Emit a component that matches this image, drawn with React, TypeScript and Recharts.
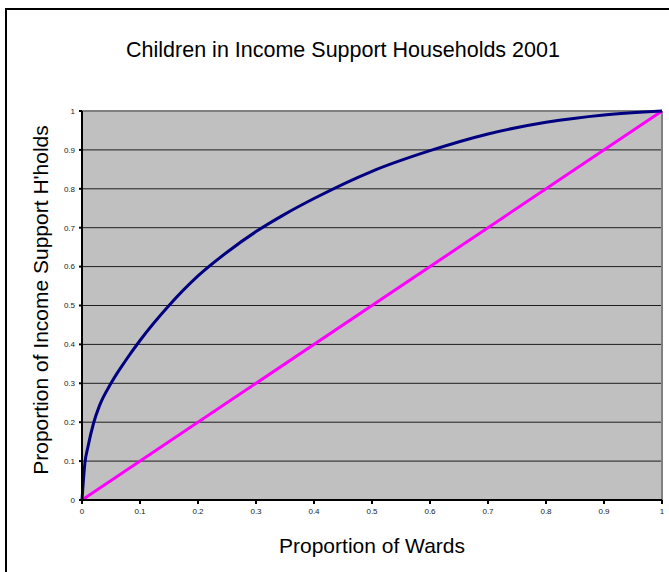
import React from 'react';
import { LineChart, Line, XAxis, YAxis, CartesianGrid, ReferenceLine } from 'recharts';

const wardShare = [0, 0.005, 0.01, 0.02, 0.03, 0.05, 0.075, 0.1, 0.15, 0.2, 0.25, 0.3, 0.35, 0.4, 0.5, 0.6, 0.7, 0.8, 0.9, 1];
const supportShare = [0, 0.095, 0.135, 0.198, 0.242, 0.3, 0.358, 0.41, 0.5, 0.576, 0.637, 0.69, 0.735, 0.775, 0.845, 0.898, 0.941, 0.971, 0.99, 1];
const equalityX = [0, 1];
const equalityY = [0, 1];
const ticks = [0, 0.1, 0.2, 0.3, 0.4, 0.5, 0.6, 0.7, 0.8, 0.9, 1];

const curveData = wardShare.map((x, i) => ({ x, y: supportShare[i] }));
const lineData = equalityX.map((x, i) => ({ x, y: equalityY[i] }));

const FONT = 'Arial, "Liberation Sans", sans-serif';

export default function App() {
  return (
    <div style={{ position: 'absolute', left: 0, top: 0, width: 669, height: 572, overflow: 'hidden', background: '#fff' }}>
      <div style={{ position: 'absolute', left: 5, top: 8, width: 700, height: 600, border: '2px solid #000', boxSizing: 'border-box' }} />
      <div style={{ position: 'absolute', left: 0, top: 0 }}>
        <LineChart width={669} height={572} margin={{ top: 111, right: 7, bottom: 0, left: 0 }}>
          <CartesianGrid fill="#C0C0C0" vertical={false} stroke="#000" strokeOpacity={0.85} horizontalValues={ticks} />
          <XAxis
            type="number"
            dataKey="x"
            domain={[0, 1]}
            ticks={ticks}
            height={72}
            tickSize={4}
            tickMargin={4}
            stroke="#000"
            strokeWidth={2}
            tick={{ fontSize: 8, fill: '#222', fontFamily: FONT }}
            allowDuplicatedCategory={false}
          />
          <YAxis
            type="number"
            dataKey="y"
            domain={[0, 1]}
            ticks={ticks}
            width={82}
            tickSize={3}
            tickMargin={4}
            stroke="#000"
            strokeWidth={2}
            tick={{ fontSize: 8, fill: '#222', fontFamily: FONT }}
          />
          <ReferenceLine y={1} stroke="#808080" strokeWidth={2} />
          <ReferenceLine x={1} stroke="#808080" strokeWidth={2} />
          <Line data={lineData} dataKey="y" type="linear" stroke="#FF00FF" strokeWidth={3} dot={false} isAnimationActive={false} />
          <Line data={curveData} dataKey="y" type="monotone" stroke="#000080" strokeWidth={3} dot={false} isAnimationActive={false} />
          <text x={343} y={57} textAnchor="middle" style={{ fontSize: 21.5, fontFamily: FONT, fill: '#000' }}>
            Children in Income Support Households 2001
          </text>
          <text x={372} y={553} textAnchor="middle" style={{ fontSize: 21, fontFamily: FONT, fill: '#000' }}>
            Proportion of Wards
          </text>
          <text x={0} y={0} transform="translate(48, 300) rotate(-90)" textAnchor="middle" style={{ fontSize: 21, fontFamily: FONT, fill: '#000' }}>
            Proportion of Income Support H'holds
          </text>
        </LineChart>
      </div>
    </div>
  );
}
